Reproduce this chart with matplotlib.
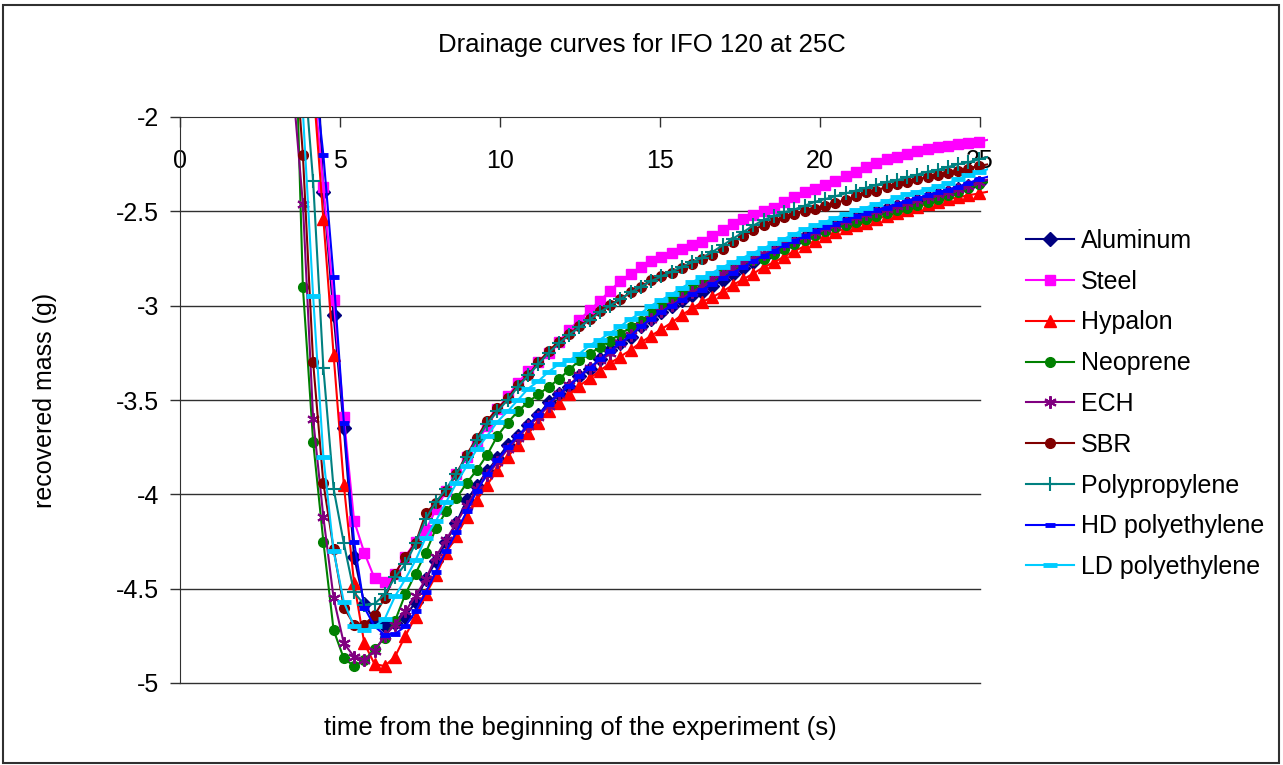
import matplotlib
matplotlib.use('Agg')
import matplotlib.pyplot as plt
from matplotlib.patches import Rectangle

plt.rcParams['font.family'] = ['Liberation Sans', 'DejaVu Sans']

# sample times (s)
time_s = [3.20, 3.52, 3.84, 4.16, 4.48, 4.80, 5.12, 5.44, 5.76, 6.08,
          6.40, 6.72, 7.04, 7.36, 7.68, 8.00, 8.32, 8.64, 8.96, 9.28,
          9.60, 9.92, 10.24, 10.56, 10.88, 11.20, 11.52, 11.84, 12.16, 12.48,
          12.80, 13.12, 13.44, 13.76, 14.08, 14.40, 14.72, 15.04, 15.36, 15.68,
          16.00, 16.32, 16.64, 16.96, 17.28, 17.60, 17.92, 18.24, 18.56, 18.88,
          19.20, 19.52, 19.84, 20.16, 20.48, 20.80, 21.12, 21.44, 21.76, 22.08,
          22.40, 22.72, 23.04, 23.36, 23.68, 24.00, 24.32, 24.64, 24.96, 25.28]

aluminum = [-0.30, -0.30, -0.70, -1.20, -2.40, -3.05, -3.65, -4.33, -4.58, -4.67,
            -4.70, -4.68, -4.65, -4.57, -4.45, -4.355, -4.25, -4.15, -4.03, -3.955,
            -3.875, -3.81, -3.74, -3.69, -3.635, -3.58, -3.51, -3.47, -3.43, -3.375,
            -3.335, -3.285, -3.235, -3.20, -3.165, -3.11, -3.07, -3.035, -3.00, -2.97,
            -2.945, -2.925, -2.895, -2.865, -2.83, -2.80, -2.77, -2.74, -2.71, -2.685,
            -2.66, -2.635, -2.61, -2.59, -2.57, -2.55, -2.53, -2.515, -2.50, -2.485,
            -2.47, -2.455, -2.44, -2.425, -2.41, -2.395, -2.38, -2.365, -2.35, -2.335]

steel = [-0.50, -0.90, -1.25, -1.78, -2.37, -2.97, -3.59, -4.14, -4.31, -4.445,
         -4.465, -4.42, -4.33, -4.25, -4.19, -4.08, -3.98, -3.89, -3.80, -3.72,
         -3.64, -3.55, -3.48, -3.41, -3.345, -3.30, -3.25, -3.19, -3.13, -3.075,
         -3.025, -2.975, -2.92, -2.87, -2.83, -2.795, -2.765, -2.74, -2.72, -2.70,
         -2.68, -2.66, -2.63, -2.60, -2.565, -2.54, -2.52, -2.50, -2.48, -2.45,
         -2.425, -2.40, -2.38, -2.36, -2.34, -2.315, -2.29, -2.265, -2.245, -2.225,
         -2.21, -2.195, -2.18, -2.17, -2.16, -2.155, -2.145, -2.14, -2.13, -2.12]

hypalon = [-0.50, -0.90, -1.30, -1.82, -2.54, -3.26, -3.95, -4.47, -4.79, -4.90,
           -4.91, -4.86, -4.75, -4.65, -4.53, -4.43, -4.31, -4.22, -4.12, -4.03,
           -3.95, -3.87, -3.80, -3.74, -3.675, -3.62, -3.56, -3.515, -3.47, -3.425,
           -3.385, -3.345, -3.305, -3.27, -3.235, -3.195, -3.16, -3.125, -3.09, -3.05,
           -3.015, -2.98, -2.955, -2.925, -2.89, -2.86, -2.83, -2.795, -2.77, -2.74,
           -2.71, -2.685, -2.655, -2.63, -2.61, -2.59, -2.575, -2.56, -2.54, -2.525,
           -2.51, -2.495, -2.475, -2.46, -2.45, -2.435, -2.425, -2.415, -2.405, -2.395]

neoprene = [-0.80, -1.00, -2.90, -3.72, -4.25, -4.72, -4.87, -4.91, -4.88, -4.82,
            -4.76, -4.67, -4.53, -4.42, -4.31, -4.18, -4.09, -4.02, -3.94, -3.87,
            -3.79, -3.69, -3.62, -3.56, -3.51, -3.47, -3.43, -3.39, -3.34, -3.29,
            -3.255, -3.22, -3.185, -3.15, -3.115, -3.08, -3.04, -2.99, -2.96, -2.93,
            -2.905, -2.88, -2.85, -2.82, -2.80, -2.78, -2.76, -2.75, -2.725, -2.70,
            -2.675, -2.65, -2.625, -2.605, -2.585, -2.57, -2.555, -2.54, -2.525, -2.51,
            -2.495, -2.48, -2.465, -2.45, -2.435, -2.415, -2.395, -2.375, -2.355, -2.345]

ech = [-0.80, -1.82, -2.46, -3.60, -4.12, -4.55, -4.79, -4.86, -4.88, -4.83,
       -4.75, -4.69, -4.62, -4.54, -4.45, -4.33, -4.24, -4.15, -4.06, -3.97,
       -3.90, -3.83, -3.76, -3.70, -3.64, -3.59, -3.53, -3.47, -3.42, -3.37,
       -3.33, -3.29, -3.25, -3.20, -3.155, -3.11, -3.07, -3.03, -2.995, -2.96,
       -2.93, -2.895, -2.86, -2.83, -2.80, -2.775, -2.75, -2.725, -2.70, -2.675,
       -2.65, -2.63, -2.61, -2.59, -2.57, -2.55, -2.53, -2.515, -2.50, -2.485,
       -2.47, -2.455, -2.44, -2.425, -2.41, -2.395, -2.38, -2.365, -2.345, -2.33]

sbr = [-0.90, -1.46, -2.20, -3.30, -3.94, -4.29, -4.60, -4.69, -4.69, -4.64,
       -4.55, -4.42, -4.33, -4.26, -4.10, -4.045, -3.98, -3.89, -3.79, -3.70,
       -3.61, -3.545, -3.49, -3.42, -3.37, -3.30, -3.24, -3.19, -3.15, -3.11,
       -3.07, -3.03, -2.995, -2.965, -2.93, -2.90, -2.865, -2.845, -2.825, -2.80,
       -2.78, -2.755, -2.73, -2.70, -2.66, -2.63, -2.60, -2.57, -2.55, -2.53,
       -2.515, -2.50, -2.485, -2.47, -2.455, -2.44, -2.42, -2.40, -2.39, -2.37,
       -2.355, -2.345, -2.33, -2.32, -2.305, -2.295, -2.285, -2.275, -2.26, -2.25]

polypropylene = [-0.60, -1.00, -1.66, -2.34, -3.33, -3.97, -4.26, -4.52, -4.585, -4.58,
                 -4.53, -4.44, -4.37, -4.26, -4.13, -4.04, -3.97, -3.89, -3.80, -3.71,
                 -3.625, -3.56, -3.50, -3.43, -3.37, -3.31, -3.25, -3.20, -3.155, -3.115,
                 -3.075, -3.035, -3.00, -2.965, -2.93, -2.90, -2.87, -2.845, -2.82, -2.795,
                 -2.77, -2.745, -2.715, -2.68, -2.645, -2.61, -2.575, -2.545, -2.525, -2.505,
                 -2.49, -2.47, -2.45, -2.435, -2.42, -2.405, -2.39, -2.375, -2.36, -2.345,
                 -2.335, -2.32, -2.305, -2.29, -2.28, -2.265, -2.25, -2.24, -2.225, -2.21]

hd_polyethylene = [-0.60, -0.95, -1.30, -1.71, -2.20, -2.85, -3.62, -4.25, -4.60, -4.70,
                   -4.745, -4.74, -4.70, -4.62, -4.52, -4.41, -4.30, -4.20, -4.09, -3.98,
                   -3.89, -3.82, -3.75, -3.69, -3.635, -3.58, -3.52, -3.47, -3.425, -3.375,
                   -3.33, -3.285, -3.24, -3.20, -3.16, -3.11, -3.07, -3.035, -3.00, -2.97,
                   -2.94, -2.915, -2.885, -2.855, -2.825, -2.795, -2.765, -2.735, -2.71, -2.68,
                   -2.655, -2.63, -2.605, -2.585, -2.565, -2.545, -2.525, -2.51, -2.495, -2.48,
                   -2.46, -2.445, -2.43, -2.415, -2.40, -2.385, -2.37, -2.35, -2.33, -2.315]

ld_polyethylene = [-0.60, -1.10, -1.97, -2.95, -3.80, -4.30, -4.57, -4.70, -4.72, -4.70,
                   -4.66, -4.54, -4.45, -4.35, -4.23, -4.14, -4.04, -3.94, -3.85, -3.76,
                   -3.69, -3.615, -3.56, -3.50, -3.44, -3.40, -3.35, -3.31, -3.29, -3.255,
                   -3.21, -3.18, -3.145, -3.11, -3.07, -3.04, -3.00, -2.97, -2.94, -2.905,
                   -2.875, -2.85, -2.825, -2.795, -2.77, -2.745, -2.72, -2.695, -2.67, -2.645,
                   -2.62, -2.595, -2.575, -2.555, -2.535, -2.515, -2.495, -2.48, -2.46, -2.445,
                   -2.425, -2.41, -2.395, -2.38, -2.365, -2.35, -2.33, -2.31, -2.29, -2.275]

series_names = ['Aluminum', 'Steel', 'Hypalon', 'Neoprene', 'ECH', 'SBR',
                'Polypropylene', 'HD polyethylene', 'LD polyethylene']
series_values = [aluminum, steel, hypalon, neoprene, ech, sbr,
                 polypropylene, hd_polyethylene, ld_polyethylene]

x_ticks = [0, 5, 10, 15, 20, 25]
y_ticks = [-2, -2.5, -3, -3.5, -4, -4.5, -5]
y_tick_labels = ['-2', '-2.5', '-3', '-3.5', '-4', '-4.5', '-5']

# (color, marker, markersize, markeredgewidth)
styles = [
    ('#000080', 'D', 7.0, 1.0),
    ('#FF00FF', 's', 7.0, 1.0),
    ('#FF0000', '^', 8.0, 1.0),
    ('#008000', 'o', 7.0, 1.0),
    ('#800080', (6, 2, 0), 9.0, 1.5),
    ('#800000', 'o', 7.0, 1.0),
    ('#008080', '+', 10.0, 1.5),
    ('#0000FF', '_', 6.5, 3.5),
    ('#00CCFF', '_', 10.0, 3.5),
]

fig = plt.figure(figsize=(12.83, 7.65), dpi=100)
fig.patch.set_facecolor('white')
ax = fig.add_axes([180 / 1283, 1 - 683 / 765, 800 / 1283, 566 / 765])
ax.set_facecolor('white')

# clip a bit to the right of x=25 like the source
clip = Rectangle((0, 0), 1.01, 1.0, transform=ax.transAxes)
for name, vals, (col, mk, ms, mew) in zip(series_names, series_values, styles):
    ln, = ax.plot(time_s, vals, color=col, lw=1.5, marker=mk, markersize=ms,
                  markeredgewidth=mew, markerfacecolor=col, markeredgecolor=col,
                  markevery=slice(0, -1), label=name)
    ln.set_clip_path(clip)

ax.set_xlim(0, 25)
ax.set_ylim(-5, -2)

# horizontal gridlines
for yv in y_ticks[1:]:
    ax.axhline(yv, color='#303030', lw=1.0, zorder=0.5, clip_on=False)

for s in ['top', 'right']:
    ax.spines[s].set_visible(False)
ax.spines['bottom'].set_position(('data', -2))
ax.spines['bottom'].set_color('#303030')
ax.spines['left'].set_color('#303030')

ax.set_xticks(x_ticks)
ax.set_xticklabels([str(v) for v in x_ticks])
ax.set_yticks(y_ticks)
ax.set_yticklabels(y_tick_labels)
ax.tick_params(axis='x', direction='out', length=7, width=1, color='#303030',
               labelsize=18, pad=16)
ax.tick_params(axis='y', direction='out', length=7, width=1, color='#303030',
               labelsize=18, pad=8)

fig.text(642 / 1283, 1 - 45 / 765, 'Drainage curves for IFO 120 at 25C',
         ha='center', va='center', fontsize=18.5)
fig.text(580 / 1283, 1 - 728 / 765, 'time from the beginning of the experiment (s)',
         ha='center', va='center', fontsize=18.5)
fig.text(45 / 1283, 1 - 400 / 765, 'recovered mass (g)',
         ha='center', va='center', rotation=90, fontsize=18)

leg = fig.legend(loc='upper left', bbox_to_anchor=(1026 / 1283, 1 - 229 / 765),
                 frameon=False, fontsize=18, borderpad=0, borderaxespad=0,
                 labelspacing=0.67, handlelength=1.9, handletextpad=0.3)

# outer border of the chart
fig.patches.append(Rectangle((3 / 1283, 2 / 765), 1276 / 1283, 758 / 765,
                             transform=fig.transFigure, fill=False,
                             edgecolor='#303030', lw=1.5))

plt.savefig('out.png', dpi=100, facecolor='white')
